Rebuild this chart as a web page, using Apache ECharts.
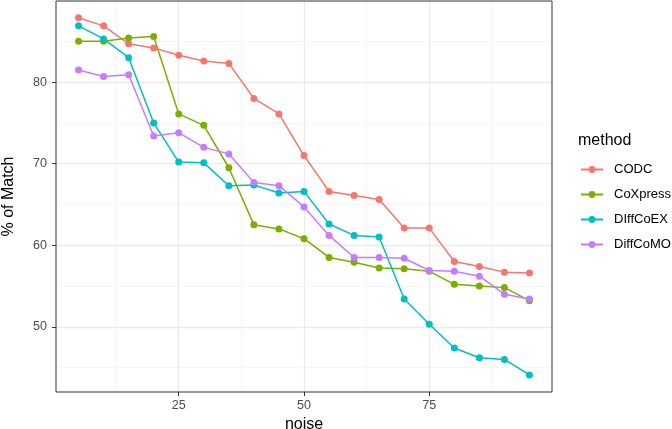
<!DOCTYPE html>
<html>
<head>
<meta charset="utf-8">
<script src="https://cdn.jsdelivr.net/npm/echarts@6/dist/echarts.min.js"></script>
<style>
html,body{margin:0;padding:0;background:#fff;}
#c{width:672px;height:429px;}
</style>
</head>
<body>
<div id="c"></div>
<script>
const noise = [5,10,15,20,25,30,35,40,45,50,55,60,65,70,75,80,85,90,95];
const methods = ['CODC','CoXpress','DIffCoEX','DiffCoMO'];
const CODC     = [87.9,86.9,84.7,84.2,83.3,82.6,82.3,78.0,76.1,71.0,66.6,66.1,65.6,62.1,62.1,58.0,57.4,56.7,56.6];
const CoXpress = [85.0,85.0,85.4,85.6,76.1,74.7,69.5,62.5,62.0,60.8,58.5,57.9,57.2,57.1,56.8,55.2,55.0,54.8,53.2];
const DIffCoEX = [86.9,85.3,83.0,75.0,70.2,70.1,67.3,67.4,66.4,66.6,62.6,61.2,61.0,53.4,50.3,47.4,46.2,46.0,44.1];
const DiffCoMO = [81.5,80.7,80.9,73.4,73.8,72.0,71.2,67.7,67.3,64.7,61.2,58.5,58.5,58.4,56.9,56.8,56.2,54.0,53.4];
const seriesValues = [CODC, CoXpress, DIffCoEX, DiffCoMO];
const colors = ['#F8766D','#7CAE00','#00BFC4','#C77CFF'];
const xMajor = [25,50,75];
const xMinor = [12.5,37.5,62.5,87.5];
const yMajor = [50,60,70,80];
const yMinor = [45,55,65,75,85];

const FONT = '"Liberation Sans", Arial, Helvetica, sans-serif';
const chart = echarts.init(document.getElementById('c'), null, {renderer:'canvas'});

const gridLineMajor = {show:true, lineStyle:{color:'#EBEBEB', width:1.3}};
const gridLineMinor = {show:true, lineStyle:{color:'#F2F2F2', width:0.7}};

const series = methods.map((m,i) => ({
  name: m,
  type: 'line',
  xAxisIndex: 0,
  yAxisIndex: 0,
  data: noise.map((x,j) => [x, seriesValues[i][j]]),
  symbol: 'circle',
  symbolSize: 7,
  showSymbol: true,
  lineStyle: {width: 1.5, color: colors[i]},
  itemStyle: {color: colors[i]},
  emphasis: {disabled: true},
  animation: false,
  z: 3
}));

chart.setOption({
  backgroundColor: '#fff',
  animation: false,
  textStyle: {fontFamily: FONT},
  grid: {left: 56, right: 120, top: 1, bottom: 37, outerBoundsMode: 'none', containLabel: false, show: true, borderColor: '#333333', borderWidth: 1, backgroundColor: 'transparent', z: 4},
  xAxis: [
    {
      type: 'value', min: 0.5, max: 99.5, gridIndex: 0,
      name: 'noise', nameLocation: 'middle', nameGap: 22,
      nameTextStyle: {fontSize: 16, color: '#000', fontFamily: FONT},
      axisLine: {show: false},
      axisTick: {show: true, length: 4, lineStyle: {color: '#333333', width: 1}, customValues: xMajor},
      axisLabel: {show: true, margin: 7, fontSize: 12.6, color: '#4D4D4D', fontFamily: FONT, customValues: xMajor},
      splitLine: gridLineMajor,
      z: 1
    },
    {
      type: 'value', min: 0.5, max: 99.5, gridIndex: 0, position: 'bottom',
      axisLine: {show: false},
      axisTick: {show: false, customValues: xMinor},
      axisLabel: {show: false, customValues: xMinor},
      splitLine: gridLineMinor,
      z: 0
    }
  ],
  yAxis: [
    {
      type: 'value', min: 42.0, max: 89.95, gridIndex: 0,
      name: '% of Match', nameLocation: 'middle', nameGap: 39, nameRotate: 90,
      nameTextStyle: {fontSize: 16, color: '#000', fontFamily: FONT},
      axisLine: {show: false},
      axisTick: {show: true, length: 4, lineStyle: {color: '#333333', width: 1}, customValues: yMajor},
      axisLabel: {show: true, margin: 9, fontSize: 12.6, color: '#4D4D4D', fontFamily: FONT, customValues: yMajor},
      splitLine: gridLineMajor,
      z: 1
    },
    {
      type: 'value', min: 42.0, max: 89.95, gridIndex: 0, position: 'left',
      axisLine: {show: false},
      axisTick: {show: false, customValues: yMinor},
      axisLabel: {show: false, customValues: yMinor},
      splitLine: gridLineMinor,
      z: 0
    }
  ],
  legend: {
    orient: 'vertical',
    left: 580, top: 163,
    padding: 0,
    itemWidth: 22, itemHeight: 8.5, itemGap: 12,
    data: methods,
    textStyle: {fontSize: 13, color: '#000', fontFamily: FONT, padding: [0,0,0,6]},
    selectedMode: false
  },
  graphic: [
    {type: 'text', left: 578, top: 133, style: {text: 'method', fontSize: 16, fill: '#000', fontFamily: FONT}}
  ],
  series: series
});
</script>
</body>
</html>
